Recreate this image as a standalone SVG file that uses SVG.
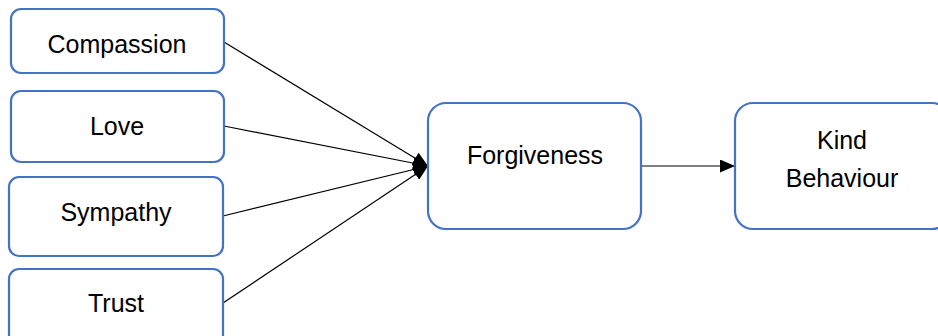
<svg xmlns="http://www.w3.org/2000/svg" width="938" height="336" viewBox="0 0 938 336">
<style>
.box{fill:#fff;stroke:#4472C4;stroke-width:2.2}
.t{font-family:"Liberation Sans",Arial,sans-serif;font-size:25px;fill:#000;text-anchor:middle}
.c{stroke:#000;stroke-width:1.2;fill:none}
</style>
<defs>
<marker id="ah" markerWidth="15" markerHeight="13" refX="15" refY="6.5" orient="auto" markerUnits="userSpaceOnUse">
<path d="M0,0 L15,6.5 L0,13 Z" fill="#000"/>
</marker>
</defs>
<rect width="938" height="336" fill="#fff"/>
<g id="connectors">
<line class="c" x1="224" y1="42" x2="428" y2="166" marker-end="url(#ah)"/>
<line class="c" x1="224" y1="126" x2="428" y2="166" marker-end="url(#ah)"/>
<line class="c" x1="223" y1="216" x2="428" y2="166" marker-end="url(#ah)"/>
<line class="c" x1="223" y1="303" x2="428" y2="166" marker-end="url(#ah)"/>
<line class="c" x1="641" y1="166" x2="735" y2="166" marker-end="url(#ah)"/>
</g>
<g id="compassion"><rect class="box" x="11" y="9" width="213" height="64" rx="10"/><text class="t" x="117" y="53">Compassion</text></g>
<g id="love"><rect class="box" x="11" y="91" width="213" height="71" rx="10"/><text class="t" x="117" y="135">Love</text></g>
<g id="sympathy"><rect class="box" x="9" y="177" width="214" height="79" rx="10"/><text class="t" x="116" y="221">Sympathy</text></g>
<g id="trust"><rect class="box" x="9" y="269" width="214" height="80" rx="10"/><text class="t" x="116" y="312">Trust</text></g>
<g id="forgiveness"><rect class="box" x="428" y="103" width="213" height="126" rx="18"/><text class="t" x="535" y="164">Forgiveness</text></g>
<g id="kind"><rect class="box" x="735" y="103" width="215" height="126" rx="18"/><text class="t" x="842" y="149">Kind</text><text class="t" x="842" y="187">Behaviour</text></g>
</svg>
